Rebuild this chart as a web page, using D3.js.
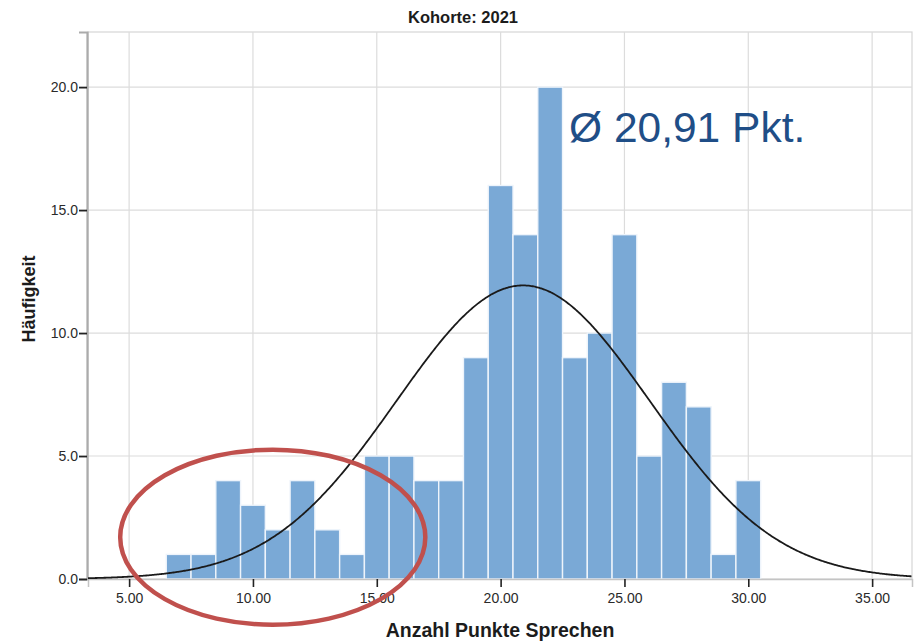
<!DOCTYPE html>
<html>
<head>
<meta charset="utf-8">
<script src="https://cdn.jsdelivr.net/npm/d3@7/dist/d3.min.js"></script>
<style>
  html, body { margin: 0; padding: 0; background: #fff; }
  svg { display: block; font-family: "Liberation Sans", Arial, sans-serif; }
</style>
</head>
<body>
<svg id="chart" width="916" height="642"></svg>
<script>
// Histogram of "Anzahl Punkte Sprechen", cohort 2021, with fitted normal curve
const title = "Kohorte: 2021";
const xTitle = "Anzahl Punkte Sprechen";
const yTitle = "Häufigkeit";

// bin centres (points) and frequencies
const points = [7, 8, 9, 10, 11, 12, 13, 14, 15, 16, 17, 18, 19, 20, 21, 22, 23, 24, 25, 26, 27, 28, 29, 30];
const counts = [1, 1, 4, 3, 2, 4, 2, 1, 5, 5, 4, 4, 9, 16, 14, 20, 9, 10, 14, 5, 8, 7, 1, 4];

const xTicks = [5, 10, 15, 20, 25, 30, 35];
const yTicks = [0, 5, 10, 15, 20];

// highlighted low-score region (centre, radii in data units)
const lowRegion = { cx: 10.8, cy: 1.7, rx: 6.16, ry: 3.56 };

const svg = d3.select("#chart");
const plot = { left: 88, right: 912, top: 32, bottom: 579 };

const x = d3.scaleLinear().domain([3.34, 36.61]).range([plot.left, plot.right]);
const y = d3.scaleLinear().domain([0, 22.24]).range([plot.bottom, plot.top]);

// summary statistics
const n = d3.sum(counts);
const mean = d3.sum(points, (p, i) => p * counts[i]) / n;
const variance = d3.sum(points, (p, i) => counts[i] * (p - mean) ** 2) / (n - 1);
const sd = Math.sqrt(variance);

// frame and grid
svg.append("rect")
  .attr("x", plot.left).attr("y", plot.top)
  .attr("width", plot.right - plot.left).attr("height", plot.bottom - plot.top)
  .attr("fill", "#fff").attr("stroke", "#d6d6d6").attr("stroke-width", 1.2);

svg.append("g").selectAll("line").data(xTicks).join("line")
  .attr("x1", d => x(d)).attr("x2", d => x(d))
  .attr("y1", plot.top).attr("y2", plot.bottom)
  .attr("stroke", "#dcdcdc").attr("stroke-width", 1.2);

svg.append("g").selectAll("line").data(yTicks.filter(d => d > 0)).join("line")
  .attr("x1", plot.left).attr("x2", plot.right)
  .attr("y1", d => y(d)).attr("y2", d => y(d))
  .attr("stroke", "#dcdcdc").attr("stroke-width", 1.2);

// bars
svg.append("g").selectAll("rect").data(points).join("rect")
  .attr("x", d => x(d - 0.5))
  .attr("width", d => x(d + 0.5) - x(d - 0.5))
  .attr("y", (d, i) => y(counts[i]))
  .attr("height", (d, i) => y(0) - y(counts[i]))
  .attr("fill", "#7aa9d6")
  .attr("stroke", "#eef4fb")
  .attr("stroke-width", 1.4);

// axes
const xAxis = svg.append("g")
  .attr("transform", `translate(0,${plot.bottom})`)
  .call(d3.axisBottom(x).tickValues(xTicks).tickFormat(d3.format(".2f")).tickSize(8).tickPadding(6));
xAxis.select(".domain").attr("stroke", "#c4c4c4").attr("stroke-width", 1.5);
xAxis.selectAll(".tick line").attr("stroke", "#222").attr("stroke-width", 1.6);
xAxis.selectAll(".tick text")
  .attr("font-size", 14).attr("fill", "#2a2a2a")
  .attr("font-family", "'Liberation Sans', Arial, sans-serif");

const yAxis = svg.append("g")
  .attr("transform", `translate(${plot.left - 1},0)`)
  .call(d3.axisLeft(y).tickValues(yTicks).tickFormat(d3.format(".1f")).tickSize(8).tickPadding(1));
yAxis.select(".domain").attr("stroke", "#ababab").attr("stroke-width", 2.2);
yAxis.selectAll(".tick line").attr("stroke", "#222").attr("stroke-width", 1.8);
yAxis.selectAll(".tick text")
  .attr("font-size", 14).attr("fill", "#2a2a2a")
  .attr("font-family", "'Liberation Sans', Arial, sans-serif");

// fitted normal curve, scaled to counts per 1-point bin
const curvePts = d3.range(x.domain()[0], x.domain()[1] + 0.001, 0.05).map(v => [
  v, n * Math.exp(-0.5 * ((v - mean) / sd) ** 2) / (sd * Math.sqrt(2 * Math.PI))
]);
svg.append("path")
  .datum(curvePts)
  .attr("fill", "none")
  .attr("stroke", "#1a1a1a")
  .attr("stroke-width", 1.8)
  .attr("d", d3.line().x(d => x(d[0])).y(d => y(d[1])).curve(d3.curveBasis));

// titles
svg.append("text")
  .attr("x", 463).attr("y", 22.5)
  .attr("text-anchor", "middle")
  .attr("font-size", 16.5).attr("font-weight", "bold").attr("fill", "#1c1c1c")
  .text(title);

svg.append("text")
  .attr("x", 500).attr("y", 637)
  .attr("text-anchor", "middle")
  .attr("font-size", 19.5).attr("font-weight", "bold").attr("fill", "#1c1c1c")
  .text(xTitle);

svg.append("text")
  .attr("transform", "translate(35,299) rotate(-90)")
  .attr("text-anchor", "middle")
  .attr("font-size", 18).attr("font-weight", "bold").attr("fill", "#1c1c1c")
  .text(yTitle);

// mean annotation beside the tallest bar
const peakIdx = d3.maxIndex(counts);
svg.append("text")
  .attr("x", x(points[peakIdx] + 0.5) + 6.5)
  .attr("y", 142)
  .attr("font-size", 42.5).attr("fill", "#1f4e87")
  .text("Ø " + d3.format(".2f")(mean).replace(".", ",") + " Pkt.");

// highlight of the low-score group
svg.append("ellipse")
  .attr("cx", x(lowRegion.cx))
  .attr("cy", y(lowRegion.cy))
  .attr("rx", x(lowRegion.cx + lowRegion.rx) - x(lowRegion.cx))
  .attr("ry", y(0) - y(lowRegion.ry))
  .attr("fill", "none")
  .attr("stroke", "#c0504d")
  .attr("stroke-width", 4.5);
</script>
</body>
</html>
